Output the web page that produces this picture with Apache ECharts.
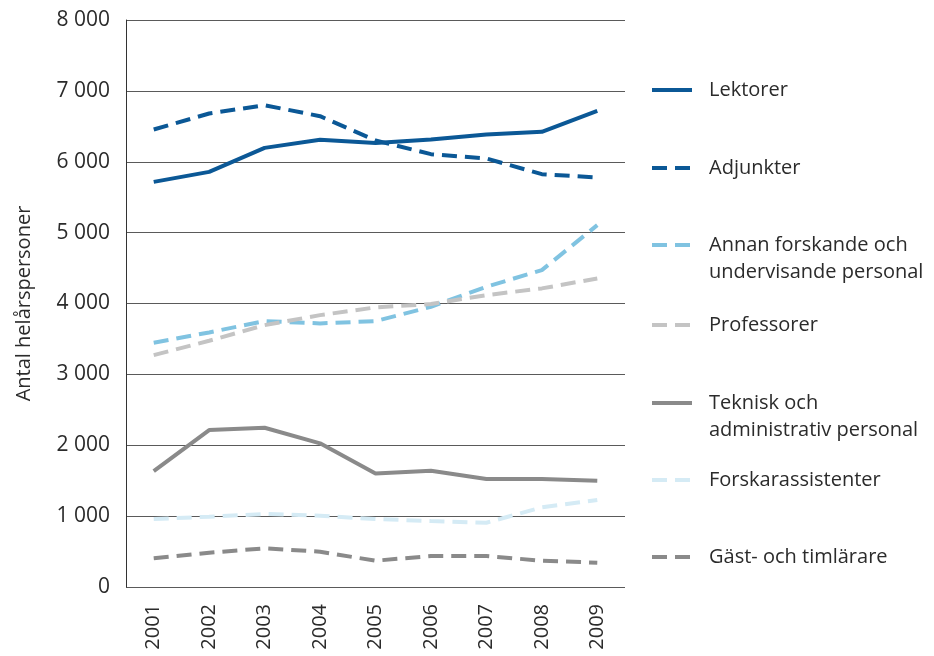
<!DOCTYPE html>
<html>
<head>
<meta charset="utf-8">
<script src="https://cdn.jsdelivr.net/npm/echarts@6/dist/echarts.min.js"></script>
<style>
  html, body { margin: 0; padding: 0; background: #fff; }
  #chart { width: 934px; height: 656px; }
</style>
</head>
<body>
<div id="chart"></div>
<script>
// år
const years = ['2001', '2002', '2003', '2004', '2005', '2006', '2007', '2008', '2009']

// helårspersoner per kategori
const lektorer = [5716, 5857, 6196, 6310, 6266, 6314, 6385, 6422, 6718]
const adjunkter = [6455, 6681, 6798, 6643, 6300, 6107, 6046, 5825, 5779]
const annan = [3446, 3592, 3752, 3719, 3752, 3954, 4236, 4471, 5106]
const professorer = [3272, 3474, 3695, 3836, 3945, 3992, 4118, 4213, 4354]
const teknisk = [1636, 2214, 2247, 2027, 1603, 1640, 1523, 1523, 1499]
const forskarassistenter = [959, 992, 1030, 1006, 959, 931, 907, 1124, 1227]
const gastlarare = [405, 484, 546, 498, 371, 437, 437, 371, 343]

const font = 'Open Sans'
const textColor = '#2b2b2b'
const dash = [15, 8]

const chart = echarts.init(document.getElementById('chart'))

// serie: namn, data, färg, streckad?
const seriesDefs = [
  { name: 'Lektorer', data: lektorer, color: '#0b5896', dashed: false },
  { name: 'Adjunkter', data: adjunkter, color: '#0b5896', dashed: true },
  { name: 'Annan forskande och\nundervisande personal', data: annan, color: '#80c3e1', dashed: true },
  { name: 'Professorer', data: professorer, color: '#c4c4c4', dashed: true },
  { name: 'Teknisk och\nadministrativ personal', data: teknisk, color: '#8a8a8a', dashed: false },
  { name: 'Forskarassistenter', data: forskarassistenter, color: '#d5ebf5', dashed: true },
  { name: 'Gäst- och timlärare', data: gastlarare, color: '#8a8a8a', dashed: true }
]

// legendens mittlinje (y) för varje post
const legendY = [90, 168, 245, 325, 403, 480, 557]

const legends = seriesDefs.map((s, i) => {
  const twoLines = s.name.indexOf('\n') >= 0
  return {
    data: [s.name],
    left: 650,
    top: twoLines ? legendY[i] - 40.5 : legendY[i] - 13.5,
    padding: 0,
    itemWidth: 40,
    itemHeight: 14,
    selectedMode: false,
    // tom första rad så att ikonen hamnar vid första textraden
    formatter: name => (twoLines ? '\n' + name : name),
    itemStyle: { opacity: 0 },
    lineStyle: {
      color: s.color,
      width: 4,
      type: s.dashed ? dash : 'solid',
      cap: 'butt'
    },
    textStyle: {
      fontFamily: font,
      fontSize: 20,
      color: textColor,
      lineHeight: 27,
      padding: [0, 0, 0, 12]
    }
  }
})

const option = {
  animation: false,
  backgroundColor: '#fff',
  grid: {
    left: 126,
    top: 20,
    right: 309,
    bottom: 69
  },
  legend: legends,
  xAxis: {
    type: 'category',
    data: years,
    boundaryGap: true,
    axisLine: { show: false },
    axisTick: { show: false },
    axisLabel: {
      rotate: 90,
      margin: 17,
      fontFamily: font,
      fontSize: 20,
      color: textColor
    }
  },
  yAxis: {
    type: 'value',
    min: 0,
    max: 8000,
    interval: 1000,
    name: 'Antal helårspersoner',
    nameLocation: 'middle',
    nameGap: 92,
    nameRotate: 90,
    nameTextStyle: {
      fontFamily: font,
      fontSize: 20,
      color: textColor
    },
    axisLine: { show: true, lineStyle: { color: '#333', width: 1 } },
    axisTick: { show: false },
    axisLabel: {
      margin: 16,
      fontFamily: font,
      fontSize: 21,
      color: textColor,
      formatter: v => String(v).replace(/\B(?=(\d{3})+(?!\d))/g, ' ')
    },
    splitLine: { lineStyle: { color: '#5a5a5a', width: 1 } }
  },
  series: seriesDefs.map(s => ({
    name: s.name,
    type: 'line',
    data: s.data,
    symbol: 'none',
    color: s.color,
    lineStyle: {
      color: s.color,
      width: 4,
      type: s.dashed ? dash : 'solid',
      cap: 'butt'
    }
  }))
}

chart.setOption(option)
</script>
</body>
</html>
